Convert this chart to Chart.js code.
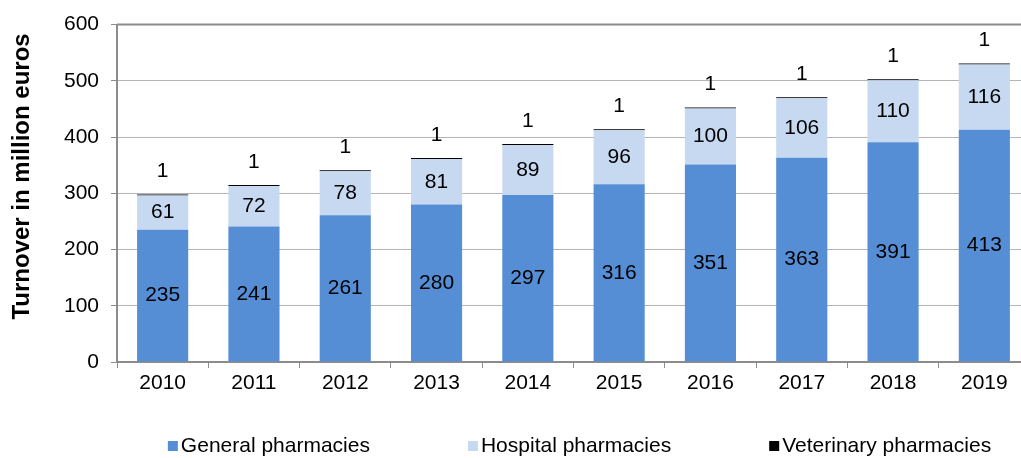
<!DOCTYPE html>
<html>
<head>
<meta charset="utf-8">
<script src="https://cdn.jsdelivr.net/npm/chart.js@4/dist/chart.umd.min.js"></script>
<style>
  html, body { margin: 0; padding: 0; background: #fff; overflow: hidden; }
  #wrap { width: 1030px; height: 458px; position: relative; }
</style>
</head>
<body>
<div id="wrap"><canvas id="myChart"></canvas></div>
<script>
// Années
var years = ['2010', '2011', '2012', '2013', '2014', '2015', '2016', '2017', '2018', '2019'];

// Chiffre d'affaires (millions d'euros)
var general = [235, 241, 261, 280, 297, 316, 351, 363, 391, 413];
var hospital = [61, 72, 78, 81, 89, 96, 100, 106, 110, 116];
var veterinary = [1, 1, 1, 1, 1, 1, 1, 1, 1, 1];

var yTicks = [0, 100, 200, 300, 400, 500, 600];
var yTitle = 'Turnover in million euros';

var FONT = 'Arial, "Liberation Sans", sans-serif';
var FS = 21;

// Étiquettes de valeurs sur les barres
var valueLabels = {
  id: 'valueLabels',
  afterDatasetsDraw: function (chart) {
    var ctx = chart.ctx;
    ctx.save();
    ctx.font = FS + 'px ' + FONT;
    ctx.fillStyle = '#000';
    ctx.textAlign = 'center';
    ctx.textBaseline = 'middle';
    chart.data.datasets.forEach(function (ds, i) {
      var meta = chart.getDatasetMeta(i);
      meta.data.forEach(function (bar, j) {
        var p = bar.getProps(['x', 'y', 'base'], true);
        var y = i < 2 ? (p.y + p.base) / 2 : p.y - 23;
        ctx.fillText(String(ds.data[j]), p.x, y);
      });
    });
    ctx.restore();
  }
};

// Cadre du haut, titre de l'axe Y et légende
var decorations = {
  id: 'decorations',
  afterDraw: function (chart) {
    var a = chart.chartArea, ctx = chart.ctx;
    ctx.save();
    ctx.strokeStyle = '#8c8c8c';
    ctx.lineWidth = 2;
    ctx.beginPath();
    ctx.moveTo(a.left, a.top);
    ctx.lineTo(a.right, a.top);
    ctx.stroke();

    // titre vertical
    ctx.fillStyle = '#000';
    ctx.font = 'bold 24px ' + FONT;
    ctx.textAlign = 'center';
    ctx.textBaseline = 'middle';
    ctx.translate(22, a.top + (a.bottom - a.top) * 0.45);
    ctx.rotate(-Math.PI / 2);
    ctx.fillText(yTitle, 0, 0);
    ctx.setTransform(1, 0, 0, 1, 0, 0);

    // légende
    ctx.font = FS + 'px ' + FONT;
    ctx.textAlign = 'left';
    var box = 10, gap = 3, spacing = 98;
    var items = chart.data.datasets.map(function (ds) {
      return { text: ds.label, color: ds.backgroundColor, w: ctx.measureText(ds.label).width };
    });
    var total = 0;
    items.forEach(function (it, i) { total += box + gap + it.w + (i ? spacing : 0); });
    var x = (a.left + a.right) / 2 - total / 2 + 6;
    var y = 446;
    items.forEach(function (it) {
      ctx.fillStyle = it.color;
      ctx.fillRect(x, y - box / 2, box, box);
      ctx.fillStyle = '#000';
      ctx.fillText(it.text, x + box + gap, y);
      x += box + gap + it.w + spacing;
    });
    ctx.restore();
  }
};

var ctx = document.getElementById('myChart').getContext('2d');

var config = {
  type: 'bar',
  data: {
    labels: years,
    datasets: [{
      label: 'General pharmacies',
      data: general,
      backgroundColor: '#558ed5',
      barPercentage: 0.56,
      categoryPercentage: 1
    }, {
      label: 'Hospital pharmacies',
      data: hospital,
      backgroundColor: '#c6d9f1',
      barPercentage: 0.56,
      categoryPercentage: 1
    }, {
      label: 'Veterinary pharmacies',
      data: veterinary,
      backgroundColor: '#000000',
      barPercentage: 0.56,
      categoryPercentage: 1,
      minBarLength: 1
    }]
  },
  options: {
    responsive: true,
    maintainAspectRatio: false,
    animation: false,
    layout: { padding: { top: 24, right: 0, left: 0, bottom: 56 } },
    plugins: {
      tooltip: { enabled: false },
      legend: { display: false }
    },
    scales: {
      x: {
        stacked: true,
        afterFit: function (scale) { scale.height = 40; },
        grid: {
          offset: true,
          drawOnChartArea: false,
          color: '#8c8c8c',
          tickLength: 6
        },
        border: { color: '#8c8c8c', width: 2 },
        ticks: {
          color: '#000',
          padding: 3,
          font: { family: FONT, size: FS }
        }
      },
      y: {
        stacked: true,
        min: 0,
        max: 600,
        afterBuildTicks: function (scale) {
          scale.ticks = yTicks.map(function (v) { return { value: v }; });
        },
        afterFit: function (scale) { scale.width = 117; },
        grid: {
          color: '#b4b4b4',
          tickLength: 6,
          tickColor: '#8c8c8c'
        },
        border: { color: '#8c8c8c', width: 2 },
        ticks: {
          color: '#000',
          padding: 12,
          font: { family: FONT, size: FS }
        }
      }
    }
  },
  plugins: [valueLabels, decorations]
};

var myChart = new Chart(ctx, config);
</script>
</body>
</html>
